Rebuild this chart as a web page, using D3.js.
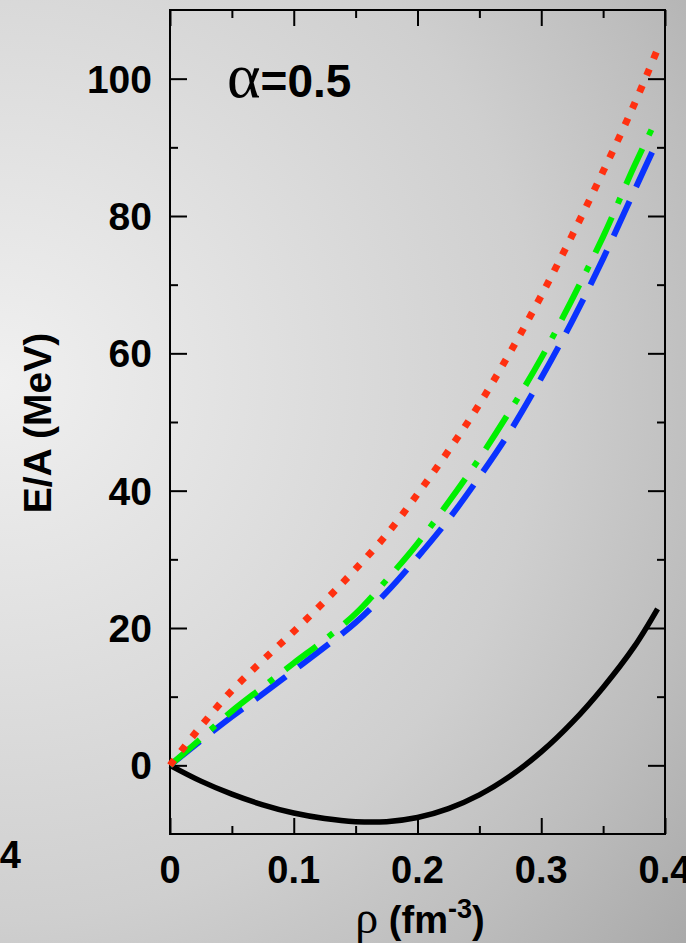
<!DOCTYPE html>
<html>
<head>
<meta charset="utf-8">
<script src="https://cdn.jsdelivr.net/npm/d3@7"></script>
<style>
    body { margin: 0; }
    svg { display: block; }
    text { font-family: "Liberation Sans", Arial, sans-serif; font-weight: bold; fill: #000; }
</style>
</head>
<body>
<svg id="chart"></svg>
<script>
'use strict';

const WIDTH = 686;
const HEIGHT = 943;

// density grid (fm^-3) and E/A curves (MeV)
var rho = [0, 0.025, 0.05, 0.075, 0.1, 0.125, 0.15, 0.175, 0.2, 0.225, 0.25, 0.275, 0.3, 0.325, 0.35, 0.375, 0.394];
var solidBlack = [0, -2.3, -4.2, -5.75, -6.95, -7.75, -8.2, -8.2, -7.6, -6.3, -4.3, -1.55, 1.95, 6.25, 11.35, 17.25, 22.8];
var dashedBlue = [0, 3.6, 7.1, 10.4, 13.8, 17.2, 20.8, 25.2, 30.3, 35.8, 42.0, 48.7, 56.4, 64.7, 73.8, 83.6, 91.0];
var dashDotGreen = [0, 3.9, 7.9, 11.4, 14.9, 18.3, 22.1, 27.0, 32.3, 38.3, 44.7, 51.7, 59.3, 67.9, 77.0, 87.2, 94.4];
var dottedRed = [0, 5.7, 10.9, 15.3, 19.5, 23.9, 28.6, 33.6, 39.5, 45.8, 52.6, 60.2, 68.4, 77.2, 86.5, 96.2, 104.3];

var xMajor = [0, 0.1, 0.2, 0.3, 0.4];
var xMinor = [0.05, 0.15, 0.25, 0.35];
var yMajor = [0, 20, 40, 60, 80, 100];
var yMinor = [10, 30, 50, 70, 90];

var margin = {top: 10, left: 170, right: 21, bottom: 109};

var svg = d3.select("#chart")
    .attr("width", WIDTH)
    .attr("height", HEIGHT);

//background shading
var grad = svg.append("defs").append("radialGradient")
    .attr("id", "bg")
    .attr("gradientUnits", "userSpaceOnUse")
    .attr("cx", 0).attr("cy", 380).attr("r", 900);
[[0, "#f0f0f0"], [0.6, "#cfcfcf"], [0.8, "#bdbdbd"], [1, "#a8a8a8"]].forEach(function (s) {
    grad.append("stop").attr("offset", s[0]).attr("stop-color", s[1]);
});
svg.append("rect")
    .attr("width", WIDTH)
    .attr("height", HEIGHT)
    .attr("fill", "url(#bg)");

var x = d3.scaleLinear()
    .domain([0, 0.4])
    .range([margin.left, WIDTH - margin.right]);

var y = d3.scaleLinear()
    .domain([-10, 110])
    .range([HEIGHT - margin.bottom, margin.top]);

var plotW = x.range()[1] - x.range()[0];
var plotH = y.range()[0] - y.range()[1];

var fmt = function (d) { return d === 0 ? "0" : d3.format(".1f")(d); };

// axes with inward ticks on all four sides
function tickAxis(axis, scale, values, size) {
    return axis(scale).tickValues(values).tickSize(size).tickFormat("");
}

var frame = svg.append("g").attr("class", "frame");

frame.append("g").attr("transform", "translate(0," + y(-10) + ")")
    .call(tickAxis(d3.axisTop, x, xMajor, 16));
frame.append("g").attr("transform", "translate(0," + y(-10) + ")")
    .call(tickAxis(d3.axisTop, x, xMinor, 8));
frame.append("g").attr("transform", "translate(0," + y(110) + ")")
    .call(tickAxis(d3.axisBottom, x, xMajor, 16));
frame.append("g").attr("transform", "translate(0," + y(110) + ")")
    .call(tickAxis(d3.axisBottom, x, xMinor, 8));
frame.append("g").attr("transform", "translate(" + x(0) + ",0)")
    .call(tickAxis(d3.axisRight, y, yMajor, 17));
frame.append("g").attr("transform", "translate(" + x(0) + ",0)")
    .call(tickAxis(d3.axisRight, y, yMinor, 8));
frame.append("g").attr("transform", "translate(" + x(0.4) + ",0)")
    .call(tickAxis(d3.axisLeft, y, yMajor, 17));
frame.append("g").attr("transform", "translate(" + x(0.4) + ",0)")
    .call(tickAxis(d3.axisLeft, y, yMinor, 8));

frame.selectAll(".domain").remove();
frame.selectAll(".tick line").attr("stroke", "#000").attr("stroke-width", 2);

svg.append("rect")
    .attr("x", x(0))
    .attr("y", y(110))
    .attr("width", plotW)
    .attr("height", plotH)
    .attr("fill", "none")
    .attr("stroke", "#000")
    .attr("stroke-width", 2);

// tick labels
svg.selectAll(".xlabel")
    .data(xMajor)
    .enter()
    .append("text")
    .attr("class", "xlabel")
    .attr("x", function (d) { return x(d); })
    .attr("y", y(-10) + 49)
    .attr("text-anchor", "middle")
    .style("font-size", "38px")
    .text(fmt);

svg.selectAll(".ylabel")
    .data(yMajor)
    .enter()
    .append("text")
    .attr("class", "ylabel")
    .attr("x", x(0) - 18)
    .attr("y", function (d) { return y(d) + 14; })
    .attr("text-anchor", "end")
    .style("font-size", "39px")
    .text(function (d) { return d; });

// leftover label of the neighbouring panel
svg.append("text")
    .attr("x", 21)
    .attr("y", y(-10) + 34)
    .attr("text-anchor", "end")
    .style("font-size", "38px")
    .text("0.4");

// axis titles
svg.append("text")
    .attr("transform", "translate(51," + 423 + ") rotate(-90)")
    .attr("text-anchor", "middle")
    .style("font-size", "39px")
    .text("E/A (MeV)");

var xt = svg.append("text")
    .attr("x", 420)
    .attr("y", 933)
    .attr("text-anchor", "middle")
    .style("font-size", "38px");
xt.append("tspan")
    .style("font-family", "'Liberation Serif', serif")
    .style("font-weight", "normal")
    .style("font-size", "46px")
    .text("ρ");
xt.append("tspan").text(" (fm");
xt.append("tspan").attr("dy", -15).style("font-size", "27px").text("-3");
xt.append("tspan").attr("dy", 15).text(")");

var al = svg.append("text")
    .attr("x", 227)
    .attr("y", 97)
    .style("font-size", "46px");
al.append("tspan")
    .style("font-family", "'Liberation Serif', serif")
    .style("font-weight", "normal")
    .style("font-size", "64px")
    .text("α");
al.append("tspan").text("=0.5");

// curves
var line = d3.line()
    .x(function (d) { return x(d[0]); })
    .y(function (d) { return y(d[1]); })
    .curve(d3.curveCatmullRom.alpha(0.5));

var series = [
    {values: solidBlack, color: "#000000", dash: null, width: 5.5},
    {values: dashedBlue, color: "#0a32ff", dash: "38,16", width: 6},
    {values: dashDotGreen, color: "#00f000", dash: "39,15,6,15", width: 6},
    {values: dottedRed, color: "#ff3010", dash: "7,11", width: 7}
];

svg.selectAll(".curve")
    .data(series)
    .enter()
    .append("path")
    .attr("class", "curve")
    .attr("d", function (s) {
        return line(rho.map(function (r, i) { return [r, s.values[i]]; }));
    })
    .attr("fill", "none")
    .attr("stroke", function (s) { return s.color; })
    .attr("stroke-width", function (s) { return s.width; })
    .attr("stroke-dasharray", function (s) { return s.dash; });
</script>
</body>
</html>
